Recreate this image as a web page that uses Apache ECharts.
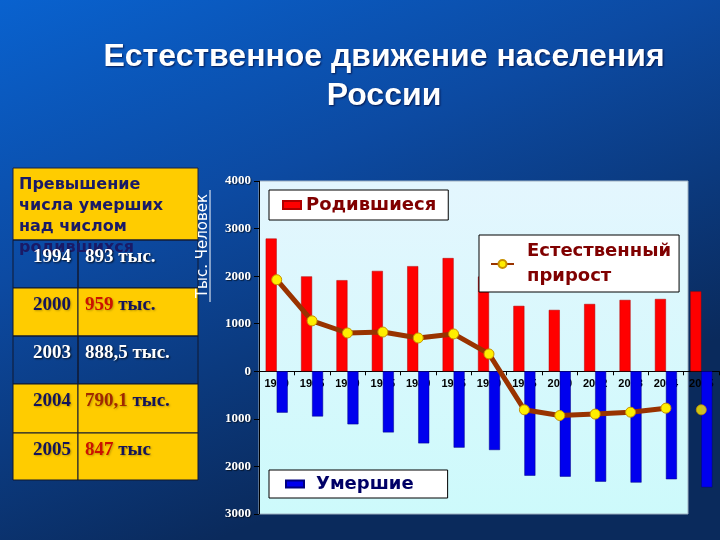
<!DOCTYPE html>
<html>
<head>
<meta charset="utf-8">
<script src="https://cdn.jsdelivr.net/npm/echarts@6/dist/echarts.min.js"></script>
<style>
html,body{margin:0;padding:0;}
#main{width:720px;height:540px;}
</style>
</head>
<body>
<div id="main"></div>
<script>
// ---- data ----
var years = ['1960','1965','1970','1975','1980','1985','1990','1995','2000','2002','2003','2004','2005'];
var births = [2790, 1995, 1915, 2110, 2210, 2380, 1990, 1375, 1290, 1415, 1500, 1520, 1680];
var deaths = [-870, -950, -1115, -1285, -1515, -1605, -1655, -2195, -2215, -2320, -2340, -2270, -2440];
var increase = [1925, 1060, 805, 825, 700, 785, 365, -810, -930, -900, -860, -775, -810];
var yTicks = [-3000, -2000, -1000, 0, 1000, 2000, 3000, 4000];

var tableHeader = 'Превышение\nчисла умерших\nнад числом\nродившихся';
var tableYears = ['1994', '2000', '2003', '2004', '2005'];
var tableNums = ['893', '959', '888,5', '790,1', '847'];
var tableUnits = [' тыс.', ' тыс.', ' тыс.', ' тыс.', ' тыс'];

var chart = echarts.init(document.getElementById('main'));

var gridTop = 181, gridBottom = 26, gridH = 540 - gridTop - gridBottom;
var yMin = yTicks[0], yMax = yTicks[yTicks.length - 1];
// move the category axis (line + labels) to the zero level
var zeroOffset = -(gridH * (0 - yMin) / (yMax - yMin));

var lineData = increase.map(function (v, i) { return i < increase.length - 1 ? v : '-'; });
var lastIdx = years.length - 1;
var loneData = [[years[lastIdx], increase[lastIdx]]];

var rowTops = [240, 288, 336, 384, 433];
var rowBottom = 480;
var rowStyle = [
  {bg: null, year: '#ffffff', num: '#ffffff', unit: '#ffffff'},
  {bg: '#ffcc00', year: '#14145a', num: '#cc1100', unit: '#14145a'},
  {bg: null, year: '#ffffff', num: '#ffffff', unit: '#ffffff'},
  {bg: '#ffcc00', year: '#14145a', num: '#a02800', unit: '#14145a'},
  {bg: '#ffcc00', year: '#14145a', num: '#cc1100', unit: '#14145a'}
];
var g = [];
g.push({type: 'rect', z: -10, shape: {x: 259, y: 181, width: 429, height: 333},
  style: {fill: new echarts.graphic.LinearGradient(0, 0, 0, 1, [{offset: 0, color: '#e4f6fe'}, {offset: 1, color: '#cdfafb'}]), stroke: '#9fb0c0', lineWidth: 1}});
g.push({type: 'rect', shape: {x: 13, y: 168, width: 185, height: 72}, style: {fill: '#ffcc00', stroke: '#1a2040', lineWidth: 1}});
tableYears.forEach(function (y, i) {
  var top = rowTops[i];
  var bot = i < rowTops.length - 1 ? rowTops[i + 1] : rowBottom;
  var st = rowStyle[i];
  g.push({type: 'rect', shape: {x: 13, y: top, width: 65, height: bot - top},
    style: {fill: st.bg || 'rgba(0,0,0,0)', stroke: '#101830', lineWidth: 1}});
  g.push({type: 'rect', shape: {x: 78, y: top, width: 120, height: bot - top},
    style: {fill: st.bg || 'rgba(0,0,0,0)', stroke: '#101830', lineWidth: 1}});
});
g.push({type: 'text', left: 19, top: 174, z: 5, style: {text: tableHeader, fill: '#1a1a66',
  font: 'bold 16px "DejaVu Sans"', lineHeight: 21}});
tableYears.forEach(function (y, i) {
  var top = rowTops[i];
  var st = rowStyle[i];
  var shadow = st.bg ? 'rgba(0,0,0,0.25)' : 'rgba(0,0,0,0.8)';
  g.push({type: 'text', z: 6, x: 71, y: top + 17, style: {text: y, fill: st.year,
    font: 'bold 19px "Liberation Serif"', textAlign: 'right', textVerticalAlign: 'middle',
    textShadowColor: shadow, textShadowBlur: 2, textShadowOffsetX: 1, textShadowOffsetY: 1}});
  g.push({type: 'text', z: 6, x: 85, y: top + 17, style: {
    text: '{n|' + tableNums[i] + '}{u|' + tableUnits[i] + '}',
    textVerticalAlign: 'middle', textAlign: 'left',
    rich: {
      n: {fill: st.num, font: 'bold 19px "Liberation Serif"', textShadowColor: shadow, textShadowBlur: 2, textShadowOffsetX: 1, textShadowOffsetY: 1},
      u: {fill: st.unit, font: 'bold 19px "Liberation Serif"', textShadowColor: shadow, textShadowBlur: 2, textShadowOffsetX: 1, textShadowOffsetY: 1}
    }}});
});
g.push({type: 'text', z: 6, x: 203, y: 246, rotation: Math.PI / 2, style: {text: 'Тыс. Человек', fill: '#ffffff',
  font: '15px "DejaVu Sans"', textAlign: 'center', textVerticalAlign: 'middle'}});
g.push({type: 'line', z: 6, shape: {x1: 210, y1: 190, x2: 210, y2: 302}, style: {stroke: '#ffffff', lineWidth: 1}});

var option = {
  backgroundColor: new echarts.graphic.LinearGradient(0, 0, 0.3, 1, [
    {offset: 0, color: '#0962cf'},
    {offset: 0.45, color: '#0c4aa2'},
    {offset: 1, color: '#0a2a5c'}
  ]),
  animation: false,
  title: {
    text: 'Естественное движение населения\nРоссии',
    left: 379, top: 33, textAlign: 'center',
    textStyle: {color: '#ffffff', fontFamily: '"Liberation Sans", Arial', fontWeight: 'bold', fontSize: 32, lineHeight: 39,
      textShadowColor: 'rgba(0,0,40,0.7)', textShadowBlur: 2, textShadowOffsetX: 1, textShadowOffsetY: 1}
  },
  legend: [
    {data: ['Родившиеся'], icon: 'rect', left: 269, top: 190, padding: [6, 12, 6, 13], itemWidth: 18, itemHeight: 8,
      backgroundColor: '#ffffff', borderColor: '#000000', borderWidth: 1, selectedMode: false,
      textStyle: {color: '#800000', fontWeight: 'bold', fontSize: 18, fontFamily: '"DejaVu Sans"'}},
    {data: ['Естественный прирост'], left: 479, top: 235, padding: [4, 8, 3, 11], itemWidth: 23, itemHeight: 10,
      backgroundColor: '#ffffff', borderColor: '#000000', borderWidth: 1, selectedMode: false,
      formatter: function () { return 'Естественный\nприрост'; },
      textStyle: {color: '#800000', fontWeight: 'bold', fontSize: 18, lineHeight: 25, fontFamily: '"DejaVu Sans"', padding: [0, 0, 0, 8]}},
    {data: ['Умершие'], icon: 'rect', left: 269, top: 470, padding: [5, 34, 5, 16], itemWidth: 18, itemHeight: 7,
      backgroundColor: '#ffffff', borderColor: '#000000', borderWidth: 1, selectedMode: false,
      textStyle: {color: '#000066', fontWeight: 'bold', fontSize: 18, fontFamily: '"DejaVu Sans"', padding: [0, 0, 0, 7]}}
  ],
  graphic: g,
  grid: {left: 259, right: 1, top: gridTop, bottom: gridBottom, containLabel: false},
  xAxis: {
    type: 'category', data: years, offset: zeroOffset,
    axisLine: {onZero: false, lineStyle: {color: '#000000', width: 1}},
    axisTick: {show: true, length: 4, lineStyle: {color: '#000000'}},
    axisLabel: {interval: 0, color: '#000000', fontWeight: 'bold', fontSize: 11, fontFamily: '"Liberation Sans", Arial', margin: 7},
    splitLine: {show: false}
  },
  yAxis: {
    type: 'value', min: yMin, max: yMax, interval: 1000,
    axisLine: {show: true, lineStyle: {color: '#000000'}},
    axisTick: {show: true, length: 5, lineStyle: {color: '#000000'}},
    axisLabel: {color: '#ffffff', fontWeight: 'bold', fontSize: 13, fontFamily: '"Liberation Serif"', margin: 8,
      textShadowColor: 'rgba(0,0,0,0.6)', textShadowBlur: 1, textShadowOffsetX: 1, textShadowOffsetY: 1,
      formatter: function (v) { return String(Math.abs(v)); }},
    splitLine: {show: false}
  },
  series: [
    {name: 'Родившиеся', type: 'bar', data: births, barWidth: 11, barGap: '0%',
      itemStyle: {color: '#ff0000', borderColor: '#b00000', borderWidth: 0.5}},
    {name: 'Умершие', type: 'bar', data: deaths, barWidth: 11, barGap: '0%',
      itemStyle: {color: '#0000ee', borderColor: '#000080', borderWidth: 0.5}},
    {name: 'Естественный прирост', type: 'line', data: lineData, symbol: 'circle', symbolSize: 10,
      lineStyle: {color: '#993300', width: 5},
      itemStyle: {color: '#ffee00', borderColor: '#c89000', borderWidth: 1}, z: 3},
    {name: 'Естественный прирост 2005', type: 'scatter', data: loneData, symbol: 'circle', symbolSize: 10,
      itemStyle: {color: '#ffee00', borderColor: '#c89000', borderWidth: 1}, z: 3}
  ]
};
chart.setOption(option);
</script>
</body>
</html>
